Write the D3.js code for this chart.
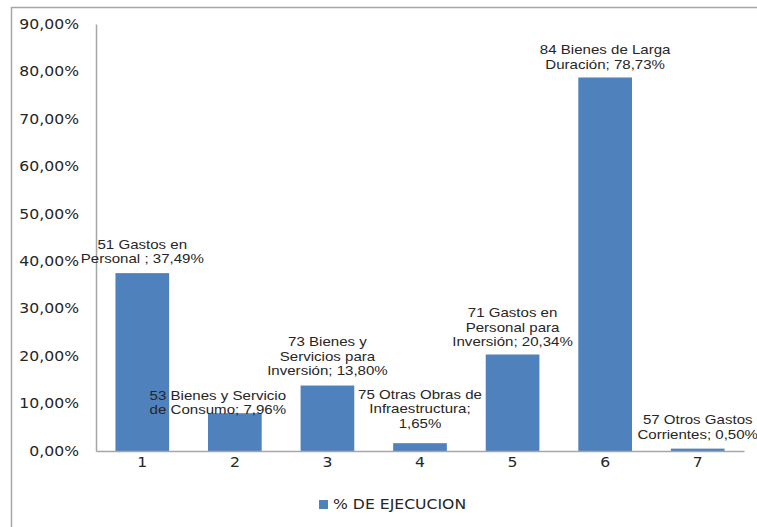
<!DOCTYPE html>
<html>
<head>
<meta charset="utf-8">
<script src="https://cdn.jsdelivr.net/npm/d3@7"></script>
<style>
  html, body { margin: 0; padding: 0; background: #fff; }
  svg { display: block; }
</style>
</head>
<body>
<svg id="chart" width="757" height="527"></svg>
<script>
// Categories (1..7) and execution percentages
const categories = ["1", "2", "3", "4", "5", "6", "7"];
const values = [37.49, 7.96, 13.80, 1.65, 20.34, 78.73, 0.50];
const labelLines = [
  ["51 Gastos en", "Personal ; 37,49%"],
  ["53 Bienes y Servicio", "de Consumo; 7,96%"],
  ["73 Bienes y", "Servicios para", "Inversión; 13,80%"],
  ["75 Otras Obras de", "Infraestructura;", "1,65%"],
  ["71 Gastos en", "Personal para", "Inversión; 20,34%"],
  ["84 Bienes de Larga", "Duración; 78,73%"],
  ["57 Otros Gastos", "Corrientes; 0,50%"]
];
// Label anchor offsets (x shift, top of first line above bar top)
const labelDx = [0, -17, 0, 0, 0, 0, 0];
const labelTop = [-29, -18, -44, -49, -42, -28, -29];
const yTicks = [0, 10, 20, 30, 40, 50, 60, 70, 80, 90];
const seriesName = "% DE EJECUCION";

const svg = d3.select("#chart");
const barColor = "#4F81BD";
const textColor = "#262626";
const sx = 1.16; // horizontal widening of the text glyphs

// Outer frame (only top and left edges are within view)
svg.append("rect")
  .attr("x", 11.5).attr("y", 7.5)
  .attr("width", 800).attr("height", 600)
  .attr("fill", "none").attr("stroke", "#a6a6a6").attr("stroke-width", 1.5);

const plot = { left: 96, right: 744, top: 24, bottom: 451 };

const x = d3.scaleBand()
  .domain(categories)
  .range([plot.left, plot.right])
  .paddingInner(0.42)
  .paddingOuter(0.21);

const y = d3.scaleLinear()
  .domain([0, 90])
  .range([plot.bottom, plot.top]);

const fmt = v => d3.format(".2f")(v).replace(".", ",") + "%";

// Y axis
const yAxis = svg.append("g")
  .attr("transform", `translate(${plot.left},0)`)
  .call(d3.axisLeft(y).tickValues(yTicks).tickFormat(fmt).tickSize(0).tickPadding(17));
yAxis.select(".domain").attr("stroke", "#a6a6a6").attr("stroke-width", 1.5);
yAxis.selectAll("text")
  .attr("fill", textColor)
  .attr("x", -17 / sx)
  .attr("transform", `scale(${sx},1)`)
  .style("font-family", "'DejaVu Sans', Verdana, sans-serif")
  .style("font-size", "13.5px");

// Bars
svg.append("g").selectAll("rect")
  .data(values)
  .join("rect")
  .attr("x", (d, i) => x(categories[i]))
  .attr("y", d => y(d))
  .attr("width", x.bandwidth())
  .attr("height", d => y(0) - y(d))
  .attr("fill", barColor);

// X axis
const xAxis = svg.append("g")
  .attr("transform", `translate(0,${plot.bottom})`)
  .call(d3.axisBottom(x).tickSize(0).tickPadding(6).tickSizeOuter(0));
xAxis.select(".domain").attr("stroke", "#a6a6a6").attr("stroke-width", 1.5);
xAxis.selectAll("text")
  .attr("fill", textColor)
  .attr("transform", `scale(${sx},1)`)
  .style("font-family", "'DejaVu Sans', Verdana, sans-serif")
  .style("font-size", "13.5px");

// Data labels
const lg = svg.append("g")
  .style("font-family", "'Liberation Sans', Arial, sans-serif")
  .style("font-size", "13px")
  .attr("fill", textColor)
  .attr("text-anchor", "middle");

labelLines.forEach((lines, i) => {
  const cx = x(categories[i]) + x.bandwidth() / 2 + labelDx[i];
  const top = y(values[i]) + labelTop[i];
  const t = lg.append("text")
    .attr("transform", `translate(${cx},${top}) scale(${sx},1)`);
  lines.forEach((ln, j) => {
    t.append("tspan")
      .attr("x", 0)
      .attr("dy", j === 0 ? "0.35em" : 14.5)
      .text(ln);
  });
});

// Legend
const legend = svg.append("g").attr("transform", "translate(319,500)");
legend.append("rect")
  .attr("x", 0).attr("y", 0)
  .attr("width", 9).attr("height", 9)
  .attr("fill", barColor);
legend.append("text")
  .attr("transform", `translate(14,4.5) scale(${sx},1)`)
  .attr("dy", "0.35em")
  .attr("fill", textColor)
  .style("font-family", "'DejaVu Sans', Verdana, sans-serif")
  .style("font-size", "13.5px")
  .text(seriesName);
</script>
</body>
</html>
